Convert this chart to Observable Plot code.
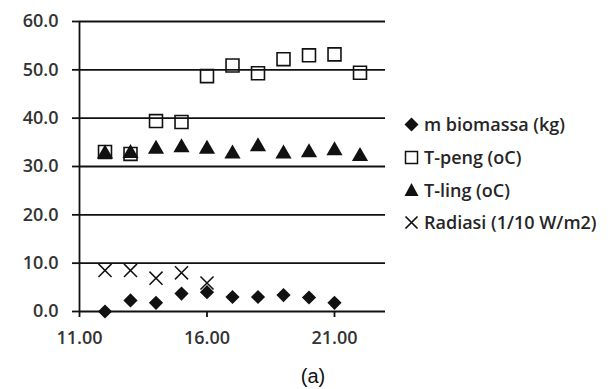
<!DOCTYPE html>
<html>
<head>
<meta charset="utf-8">
<script src="https://cdn.jsdelivr.net/npm/d3@7"></script>
<script src="https://cdn.jsdelivr.net/npm/@observablehq/plot@0.6"></script>
<style>
  body { margin: 0; background: #fff; }
  #wrap { position: relative; width: 614px; height: 389px; font-family: "Open Sans", sans-serif; }
  #legend { position: absolute; left: 404px; top: 108px; font-size: 18px; font-weight: 600; color: #262626; }
  #legend .item { display: flex; align-items: center; height: 32.7px; }
  #legend svg { margin-right: 5px; }
  #caption { position: absolute; left: 0; width: 626px; top: 365px; text-align: center; font-family: "Liberation Sans", Arial, sans-serif; font-size: 20px; color: #111; }
</style>
</head>
<body>
<div id="wrap"><div id="chart"></div><div id="legend"></div><div id="caption">(a)</div></div>
<script>
const hours = [12, 13, 14, 15, 16, 17, 18, 19, 20, 21, 22];
const biomassa = [0.0, 2.3, 1.8, 3.7, 4.0, 3.0, 3.0, 3.4, 2.9, 1.8];
const tPeng = [33.0, 32.6, 39.4, 39.2, 48.7, 50.9, 49.3, 52.2, 53.0, 53.2, 49.4];
const tLing = [32.6, 32.7, 33.6, 33.9, 33.6, 32.6, 34.1, 32.6, 32.9, 33.3, 32.1];
const radiasi = [8.5, 8.5, 6.9, 8.0, 5.9];
const yTicks = [0, 10, 20, 30, 40, 50, 60];
const xTicks = [11, 16, 21];
const seriesNames = ["m biomassa (kg)", "T-peng (oC)", "T-ling (oC)", "Radiasi (1/10 W/m2)"];

const toRows = (vals) => vals.map((v, i) => ({x: hours[i], y: v}));

const chart = Plot.plot({
  width: 400,
  height: 355,
  marginLeft: 79,
  marginRight: 15,
  marginTop: 21,
  marginBottom: 44,
  style: {fontFamily: "'Open Sans', sans-serif", fontSize: "18px", fontWeight: 600, color: "#333", background: "white"},
  x: {domain: [11, 23]},
  y: {domain: [0, 60]},
  marks: [
    Plot.gridY(yTicks, {stroke: "#111", strokeOpacity: 1, strokeWidth: 1.8}),
    Plot.axisY(yTicks, {tickSize: 7, tickPadding: 14, tickFormat: d3.format(".1f"), stroke: "#111", strokeWidth: 1.8, label: null, fill: "#333"}),
    Plot.axisX(xTicks, {tickSize: 6, tickPadding: 14, tickFormat: d3.format(".2f"), stroke: "#111", strokeWidth: 1.8, label: null, fill: "#333"}),
    Plot.ruleX([11], {y1: 0, y2: 60, stroke: "#111", strokeWidth: 1.8}),
    Plot.dot(toRows(biomassa), {x: "x", y: "y", symbol: "diamond2", r: 6.4, fill: "#111", stroke: "none"}),
    Plot.dot(toRows(tPeng), {x: "x", y: "y", symbol: "square", r: 7.3, fill: "none", stroke: "#111", strokeWidth: 1.6}),
    Plot.dot(toRows(tLing), {x: "x", y: "y", symbol: "triangle", r: 6, fill: "#111", stroke: "none"}),
    Plot.dot(toRows(radiasi), {x: "x", y: "y", symbol: "times", r: 6, fill: "none", stroke: "#111", strokeWidth: 1.5})
  ]
});
document.getElementById("chart").appendChild(chart);

const symbolsSvg = [
  '<svg width="15" height="15" viewBox="-7.5 -7.5 15 15"><path d="M0,-7L7,0L0,7L-7,0Z" fill="#111"/></svg>',
  '<svg width="15" height="15" viewBox="-7.5 -7.5 15 15"><rect x="-6" y="-6" width="12" height="12" fill="none" stroke="#111" stroke-width="1.5"/></svg>',
  '<svg width="15" height="15" viewBox="-7.5 -7.5 15 15"><path d="M0,-6.5L7,6.5L-7,6.5Z" fill="#111"/></svg>',
  '<svg width="15" height="15" viewBox="-7.5 -7.5 15 15"><path d="M-6,-6L6,6M6,-6L-6,6" stroke="#111" stroke-width="1.7"/></svg>'
];
const legend = document.getElementById("legend");
seriesNames.forEach((name, i) => {
  const div = document.createElement("div");
  div.className = "item";
  div.innerHTML = symbolsSvg[i] + "<span>" + name + "</span>";
  legend.appendChild(div);
});
</script>
</body>
</html>
